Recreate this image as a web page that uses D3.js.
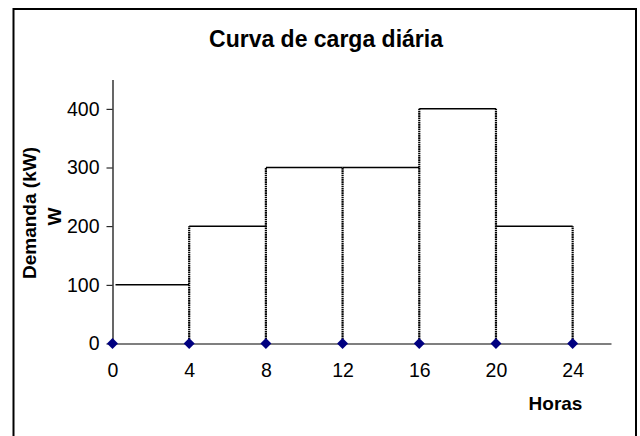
<!DOCTYPE html>
<html>
<head>
<meta charset="utf-8">
<script src="https://cdn.jsdelivr.net/npm/d3@7"></script>
<style>
  body { margin: 0; background: #fff; }
  svg { display: block; font-family: 'Liberation Sans', Arial, sans-serif; }
</style>
</head>
<body>
<svg id="chart" width="640" height="436"></svg>
<script>
'use strict';

// hour boundaries and the demand held during each interval
const hours = [0, 4, 8, 12, 16, 20, 24];
const demand = [100, 200, 300, 300, 400, 200];
const yTicks = [0, 100, 200, 300, 400];
const xTicks = [0, 4, 8, 12, 16, 20, 24];

const svg = d3.select('#chart');

// frame
svg.append('rect')
  .attr('x', 13.5)
  .attr('y', 9)
  .attr('width', 622.5)
  .attr('height', 450)
  .attr('fill', '#fff')
  .attr('stroke', '#000')
  .attr('stroke-width', 2);

const x = d3.scaleLinear()
  .domain([0, 26])
  .range([112.5, 611]);

const y = d3.scaleLinear()
  .domain([0, 450])
  .range([343.5, 79.5]);

// y axis
const gy = svg.append('g')
  .attr('transform', `translate(${x(0)},0)`)
  .call(d3.axisLeft(y)
    .tickValues(yTicks)
    .tickSize(6)
    .tickPadding(7)
    .tickSizeOuter(0));
gy.select('.domain').attr('stroke-width', 1.2);

// x axis
const gx = svg.append('g')
  .attr('transform', `translate(0,${y(0)})`)
  .call(d3.axisBottom(x)
    .tickValues(xTicks)
    .tickSize(0)
    .tickPadding(19.5)
    .tickSizeOuter(0));
gx.select('.domain').attr('stroke-width', 1.2);

svg.selectAll('.tick text')
  .attr('font-family', "'Liberation Sans', Arial, sans-serif")
  .attr('font-size', 19.5)
  .attr('fill', '#000');

// vertical drop lines at each boundary (dotted)
const drops = hours.slice(1).map((h, i) => ({
  h,
  v: Math.max(demand[i], demand[i + 1] || 0)
}));

svg.append('g')
  .selectAll('line')
  .data(drops)
  .enter().append('line')
  .attr('x1', d => x(d.h))
  .attr('x2', d => x(d.h))
  .attr('y1', y(0))
  .attr('y2', d => y(d.v))
  .attr('stroke', '#000')
  .attr('stroke-width', 2.2)
  .attr('stroke-dasharray', '1.6,0.6');

// horizontal steps
svg.append('g')
  .selectAll('line')
  .data(demand)
  .enter().append('line')
  .attr('x1', (d, i) => x(hours[i]) + (i === 0 ? 3 : 0))
  .attr('x2', (d, i) => x(hours[i + 1]))
  .attr('y1', d => y(d))
  .attr('y2', d => y(d))
  .attr('stroke', '#000')
  .attr('stroke-width', 1.5);

// diamond markers on the hour axis
svg.append('g')
  .selectAll('path')
  .data(hours)
  .enter().append('path')
  .attr('d', d3.symbol().type(d3.symbolSquare).size(60))
  .attr('transform', d => `translate(${x(d)},${y(0)}) rotate(45)`)
  .attr('fill', '#000080');

// titles
svg.append('text')
  .attr('x', 326)
  .attr('y', 46.5)
  .attr('text-anchor', 'middle')
  .attr('font-size', 23)
  .attr('font-weight', 'bold')
  .text('Curva de carga diária');

svg.append('text')
  .attr('x', 555.5)
  .attr('y', 409.5)
  .attr('text-anchor', 'middle')
  .attr('font-size', 19)
  .attr('font-weight', 'bold')
  .text('Horas');

const yl = svg.append('text')
  .attr('transform', 'translate(36,213) rotate(-90)')
  .attr('text-anchor', 'middle')
  .attr('font-size', 19)
  .attr('font-weight', 'bold');
yl.append('tspan').attr('x', 0).attr('y', 0).text('Demanda (kW)');
yl.append('tspan').attr('x', -3.5).attr('y', 25.3).text('W');
</script>
</body>
</html>
